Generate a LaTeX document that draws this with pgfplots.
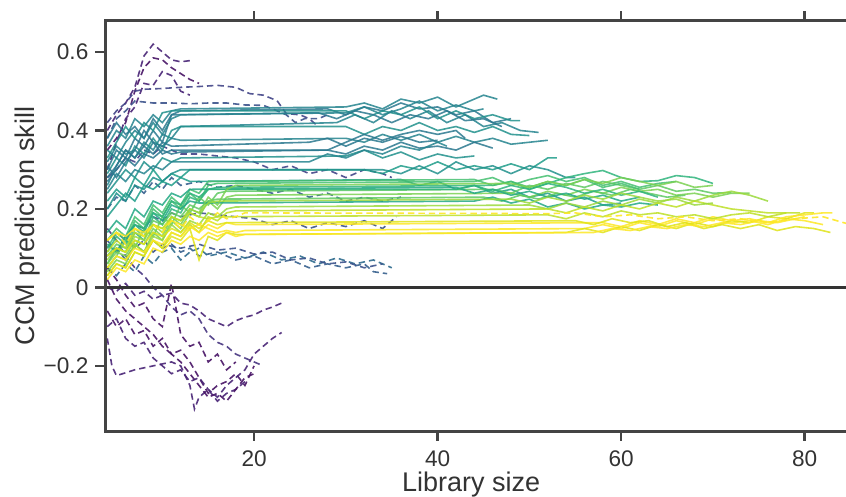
\documentclass[border=0pt]{standalone}
\usepackage{pgfplots}
\pgfplotsset{compat=1.18}
\usepackage{fontspec}
\setmainfont{Liberation Sans}
\definecolor{v05}{HTML}{471365}
\definecolor{v10}{HTML}{482475}
\definecolor{v15}{HTML}{463480}
\definecolor{v20}{HTML}{414487}
\definecolor{v25}{HTML}{3B528B}
\definecolor{v30}{HTML}{355F8D}
\definecolor{v35}{HTML}{2F6C8E}
\definecolor{v40}{HTML}{2A788E}
\definecolor{v45}{HTML}{25848E}
\definecolor{v50}{HTML}{21918C}
\definecolor{v55}{HTML}{1E9C89}
\definecolor{v60}{HTML}{22A884}
\definecolor{v65}{HTML}{2FB47C}
\definecolor{v70}{HTML}{44BF70}
\definecolor{v75}{HTML}{5EC962}
\definecolor{v80}{HTML}{7AD151}
\definecolor{v85}{HTML}{9BD93C}
\definecolor{v90}{HTML}{BDDF26}
\definecolor{v95}{HTML}{DFE318}
\definecolor{v100}{HTML}{FDE725}
\definecolor{spinec}{HTML}{444444}
\definecolor{txtc}{HTML}{333333}
\begin{document}
\begin{tikzpicture}
\begin{axis}[
  name=ax,
  scale only axis, width=370.5pt, height=205pt,
  xmin=3.75, xmax=84.5, ymin=-0.366, ymax=0.679,
  axis line style={draw=none},
  xtick={20,40,60,80}, xticklabels={20,40,60,80},
  ytick={-0.2,0,0.2,0.4,0.6}, yticklabels={−0.2,0,0.2,0.4,0.6},
  xtick pos=both, xticklabel pos=lower, ytick pos=left,
  tick align=outside, major tick length=4.8pt,
  tick style={color=spinec, line width=1.3pt},
  /pgf/number format/assume math mode=true,
  ticklabel style={font=\fontsize{11.3}{13}\selectfont, color=txtc},
  xticklabel style={yshift=-1.5pt},
  xlabel={Library size}, ylabel={CCM prediction skill},
  label style={font=\fontsize{13.5}{16}\selectfont, color=txtc},
  xlabel style={at={(axis description cs:0.494,-0.148)}, anchor=base},
  ylabel style={at={(axis description cs:-0.0945,0.5)}, anchor=base, rotate=0},
  sol/.style={solid, line width=0.8pt, opacity=0.85},
  dsh/.style={dash pattern=on 3.2pt off 2pt, line width=0.8pt, opacity=0.9},
]
% ---- dashed (dark) series ----
\addplot[dsh, v10] coordinates {(4,0.40)(5,0.44)(6,0.47)(7,0.51)(8,0.59)(9,0.62)(10,0.60)(11,0.58)(12,0.575)(13,0.578)};
\addplot[dsh, v05] coordinates {(4,0.35)(5,0.38)(6,0.42)(7,0.50)(8,0.56)(9,0.585)(10,0.58)(11,0.56)(12,0.545)(13,0.53)(14,0.52)};
\addplot[dsh, v10] coordinates {(4,0.30)(5,0.37)(6,0.43)(7,0.46)(8,0.52)(9,0.515)(10,0.55)(11,0.54)(12,0.50)(13,0.49)};
\addplot[dsh, v20] coordinates {(4,0.42)(5,0.45)(6,0.47)(7,0.50)(8,0.505)(10,0.507)(12,0.51)(14,0.512)(16,0.515)(18,0.51)(19.5,0.494)(21,0.49)(22.5,0.476)(23.5,0.443)(25,0.44)(26,0.43)(27,0.41)};
\addplot[dsh, v25] coordinates {(4,0.38)(5,0.43)(6,0.45)(7,0.475)(9,0.47)(11,0.47)(13,0.468)(15,0.47)(17,0.47)(19,0.465)(21,0.464)(22,0.455)(23.5,0.44)(24.5,0.42)(25.5,0.43)(27,0.43)(28,0.44)};
\addplot[dsh, v20] coordinates {(4,0.28)(5,0.30)(6,0.33)(7,0.32)(8,0.35)(9,0.34)(10,0.36)(11,0.35)(12,0.34)(14,0.34)(16,0.335)(18,0.33)(20,0.32)(22,0.30)(24,0.31)(26,0.29)(28,0.30)(30,0.28)(32,0.30)(34,0.29)(35,0.28)};
\addplot[dsh, v30] coordinates {(4,0.20)(5,0.23)(6,0.22)(7,0.26)(8,0.24)(9,0.27)(10,0.25)(11,0.28)(12,0.26)(14,0.27)(16,0.255)(18,0.26)(20,0.25)(22,0.24)(24,0.25)(26,0.23)(28,0.24)(30,0.22)(32,0.23)(34,0.22)(36,0.23)};
\addplot[dsh, v25] coordinates {(4,0.10)(5,0.14)(6,0.12)(7,0.16)(8,0.15)(9,0.18)(10,0.17)(11,0.19)(12,0.18)(14,0.19)(16,0.185)(18,0.18)(20,0.175)(22,0.16)(24,0.17)(26,0.15)(28,0.165)(30,0.155)(32,0.17)(34,0.15)(35.5,0.18)};
\addplot[dsh, v30] coordinates {(4,0.08)(5,0.10)(6,0.07)(7,0.11)(8,0.09)(9,0.12)(10,0.10)(11,0.11)(12,0.09)(13,0.10)(14,0.08)(16,0.09)(18,0.07)(20,0.08)(22,0.06)(24,0.07)(26,0.05)(28,0.06)(30,0.05)(32,0.06)(33,0.04)(34.5,0.035)};
\addplot[dsh, v35] coordinates {(4,0.05)(5,0.03)(6,0.06)(7,0.04)(8,0.08)(9,0.06)(10,0.09)(11,0.10)(12,0.07)(13,0.09)(14,0.10)(15,0.08)(17,0.09)(19,0.075)(21,0.09)(23,0.07)(25,0.08)(27,0.06)(29,0.075)(31,0.06)(33,0.07)(35,0.05)};
\addplot[dsh, v25] coordinates {(4,0.12)(5,0.09)(6,0.13)(7,0.10)(8,0.12)(9,0.09)(10,0.11)(12,0.10)(14,0.11)(16,0.095)(18,0.10)(20,0.085)(22,0.09)(24,0.07)(26,0.075)(28,0.06)(30,0.065)(32,0.05)(34,0.06)};
\addplot[dsh, v05] coordinates {(4,0.02)(5,-0.03)(6,-0.06)(7,-0.08)(8,-0.10)(9,-0.12)(10,-0.15)(11,-0.17)(12,-0.16)(13,-0.19)(14,-0.23)(15,-0.27)(16,-0.25)(17,-0.24)(18,-0.22)(19,-0.25)(20,-0.20)};
\addplot[dsh, v10] coordinates {(4,-0.13)(4.5,-0.20)(5,-0.225)(7,-0.21)(9,-0.20)(11,-0.19)(12,-0.20)(13,-0.25)(13.5,-0.31)(14,-0.28)(15,-0.26)(16,-0.29)(17,-0.27)(18,-0.26)(19,-0.24)};
\addplot[dsh, v05] coordinates {(4,-0.06)(5,-0.10)(6,-0.08)(7,-0.12)(8,-0.11)(9,-0.15)(10,-0.13)(11,-0.17)(12,-0.19)(13,-0.22)(14,-0.25)(15,-0.28)(16,-0.27)(17,-0.29)(18,-0.26)(19,-0.23)(20,-0.22)};
\addplot[dsh, v10] coordinates {(4,0.0)(5,-0.01)(6,0.01)(7,-0.02)(8,-0.01)(9,-0.03)(10,-0.02)(11,-0.015)(12,-0.04)(13,-0.045)(14,-0.06)(15,-0.08)(16,-0.09)(17,-0.10)(18,-0.085)(19,-0.076)(20,-0.07)(21,-0.058)(22,-0.05)(23,-0.04)};
\addplot[dsh, v15] coordinates {(4,0.15)(5,0.12)(6,0.08)(7,0.05)(8,0.03)(9,0.0)(10,-0.02)(11,-0.05)(12,-0.07)(13,-0.06)(14,-0.08)(15,-0.12)(16,-0.14)(17,-0.15)(18,-0.17)(19,-0.18)(20,-0.19)(21,-0.20)};
\addplot[dsh, v10] coordinates {(4,-0.10)(5,-0.08)(6,-0.13)(7,-0.15)(8,-0.14)(9,-0.18)(10,-0.20)(11,-0.22)(12,-0.21)(13,-0.24)(14,-0.23)(15,-0.26)(16,-0.28)(17,-0.25)(18,-0.23)(19,-0.21)(20,-0.17)(21,-0.15)(22,-0.13)(23,-0.115)};
\addplot[dsh, v05] coordinates {(4,0.05)(5,0.02)(6,-0.02)(7,-0.05)(8,-0.04)(9,-0.08)(10,-0.10)(11,0.01)(12,-0.12)(13,-0.15)(14,-0.14)(15,-0.19)(16,-0.17)(17,-0.21)(18,-0.19)};
% ---- solid teal ----
\addplot[sol, v45] coordinates {(4,0.36)(5,0.40)(6,0.38)(7,0.43)(8,0.41)(9,0.44)(10,0.42)(11,0.45)(12,0.455)(30,0.46)(32,0.47)(34,0.455)(36,0.48)(38,0.47)(40,0.485)(42,0.46)(43,0.47)(45,0.49)(46.5,0.48)};
\addplot[sol, v40] coordinates {(4,0.30)(5,0.35)(6,0.33)(7,0.38)(8,0.36)(9,0.40)(10,0.37)(11,0.44)(12,0.45)(28,0.455)(30,0.44)(32,0.46)(34,0.45)(36,0.47)(38,0.455)(40,0.46)(42,0.44)(44,0.45)(46,0.42)(48,0.43)};
\addplot[sol, v50] coordinates {(4,0.33)(5,0.37)(6,0.41)(7,0.38)(8,0.42)(9,0.40)(10,0.445)(11,0.45)(30,0.45)(32,0.43)(34,0.45)(36,0.44)(38,0.46)(40,0.43)(42,0.45)(44,0.43)(46,0.44)(48,0.425)(49,0.425)};
\addplot[sol, v45] coordinates {(4,0.26)(5,0.31)(6,0.35)(7,0.33)(8,0.37)(9,0.35)(10,0.39)(11,0.38)(12,0.41)(29,0.42)(31,0.44)(33,0.42)(35,0.45)(37,0.43)(39,0.45)(41,0.42)(43,0.44)(45,0.41)(47,0.42)(49,0.40)(51,0.395)};
\addplot[sol, v40] coordinates {(4,0.38)(5,0.42)(6,0.39)(7,0.41)(8,0.38)(9,0.43)(10,0.40)(11,0.44)(27,0.445)(29,0.43)(31,0.45)(33,0.44)(35,0.42)(37,0.44)(39,0.43)(41,0.45)(43,0.425)(45,0.43)(47,0.41)};
\addplot[sol, v50] coordinates {(4,0.29)(5,0.33)(6,0.31)(7,0.36)(8,0.34)(9,0.38)(10,0.35)(11,0.40)(12,0.41)(30,0.41)(32,0.39)(34,0.41)(36,0.40)(38,0.42)(40,0.40)(42,0.41)(44,0.395)(46,0.41)(48,0.39)(50,0.387)};
\addplot[sol, v45] coordinates {(4,0.32)(5,0.36)(6,0.34)(7,0.35)(8,0.33)(9,0.37)(10,0.36)(11,0.38)(12,0.375)(30,0.38)(32,0.37)(34,0.39)(36,0.375)(38,0.39)(40,0.37)(42,0.385)(44,0.37)(46,0.38)(48,0.365)(50,0.37)(52,0.375)};
\addplot[sol, v40] coordinates {(4,0.28)(5,0.31)(6,0.35)(7,0.33)(8,0.36)(9,0.34)(10,0.37)(11,0.36)(26,0.37)(28,0.38)(30,0.36)(32,0.38)(34,0.37)(36,0.385)(38,0.37)(40,0.375)};
\addplot[sol, v40] coordinates {(4,0.27)(5,0.30)(6,0.33)(7,0.31)(8,0.34)(9,0.33)(10,0.35)(11,0.34)(12,0.345)(28,0.35)(30,0.34)(32,0.36)(34,0.35)(36,0.37)(38,0.355)(40,0.36)(42,0.35)(44,0.37)(46,0.355)};
\addplot[sol, v50] coordinates {(4,0.24)(5,0.27)(6,0.30)(7,0.28)(8,0.32)(9,0.30)(10,0.33)(11,0.32)(12,0.33)(30,0.335)(32,0.35)(34,0.33)(36,0.345)(38,0.325)(40,0.34)(42,0.33)(44,0.335)};
\addplot[sol, v55] coordinates {(4,0.22)(5,0.25)(6,0.23)(7,0.28)(8,0.26)(9,0.30)(10,0.27)(11,0.29)(12,0.28)(13,0.30)(32,0.30)(34,0.29)(36,0.31)(38,0.30)(40,0.32)(42,0.30)(44,0.31)(46,0.30)(48,0.315)(50,0.30)(52,0.33)(53,0.33)};
\addplot[sol, v50] coordinates {(4,0.20)(5,0.24)(6,0.22)(7,0.26)(8,0.25)(9,0.28)(10,0.27)(11,0.29)(12,0.30)(34,0.30)(36,0.29)(38,0.31)(40,0.29)(42,0.32)(44,0.30)(46,0.31)(48,0.29)(50,0.31)(52,0.30)(54,0.28)(55,0.28)};
\addplot[sol, v55] coordinates {(4,0.18)(5,0.21)(6,0.24)(7,0.22)(8,0.26)(9,0.25)(10,0.27)(11,0.26)(12,0.28)(13,0.27)(36,0.275)(38,0.26)(40,0.27)(42,0.25)(44,0.26)(46,0.24)(48,0.25)(50,0.23)(52,0.24)(54,0.22)(56,0.23)(58,0.21)(60,0.215)};
\addplot[sol, v45] coordinates {(4,0.35)(5,0.33)(6,0.37)(7,0.40)(8,0.38)(9,0.42)(10,0.39)(11,0.43)(12,0.44)(30,0.445)(32,0.46)(34,0.44)(36,0.455)(38,0.475)(40,0.45)(42,0.465)(44,0.45)(45,0.455)};
\addplot[sol, v40] coordinates {(4,0.31)(5,0.28)(6,0.32)(7,0.35)(8,0.40)(9,0.37)(10,0.34)(11,0.35)(28,0.35)(30,0.37)(32,0.39)(34,0.375)(36,0.39)(38,0.40)(40,0.39)(42,0.40)(43,0.38)};
\addplot[sol, v45] coordinates {(4,0.25)(5,0.29)(6,0.27)(7,0.30)(8,0.29)(9,0.31)(10,0.30)(11,0.32)(26,0.32)(28,0.34)(30,0.33)(32,0.35)(34,0.34)(36,0.36)(38,0.35)(40,0.37)(41,0.36)};
% ---- solid green ----
\addplot[sol, v70] coordinates {(4,0.10)(5,0.14)(6,0.12)(7,0.17)(8,0.15)(9,0.20)(10,0.18)(11,0.22)(12,0.20)(13,0.24)(14,0.22)(15,0.26)(16,0.265)(44,0.27)(46,0.28)(48,0.26)(50,0.275)(52,0.285)(54,0.27)(56,0.28)(58,0.26)(60,0.27)(62,0.255)(64,0.265)(66,0.27)};
\addplot[sol, v65] coordinates {(4,0.06)(5,0.10)(6,0.09)(7,0.14)(8,0.12)(9,0.18)(10,0.16)(11,0.20)(12,0.19)(13,0.23)(14,0.22)(15,0.25)(16,0.255)(46,0.26)(48,0.27)(50,0.25)(52,0.265)(54,0.28)(56,0.29)(58,0.298)(60,0.28)(62,0.27)(64,0.272)(66,0.285)(68,0.28)(70,0.265)};
\addplot[sol, v75] coordinates {(4,0.05)(5,0.08)(6,0.12)(7,0.10)(8,0.15)(9,0.13)(10,0.18)(11,0.16)(12,0.21)(13,0.19)(14,0.23)(15,0.21)(16,0.24)(17,0.245)(46,0.25)(48,0.24)(50,0.26)(52,0.25)(54,0.265)(56,0.255)(58,0.27)(60,0.26)(62,0.25)(64,0.26)(66,0.245)(68,0.25)(70,0.24)(72,0.242)};
\addplot[sol, v70] coordinates {(4,0.12)(5,0.15)(6,0.13)(7,0.18)(8,0.16)(9,0.21)(10,0.19)(11,0.23)(12,0.21)(13,0.25)(14,0.24)(15,0.27)(44,0.275)(46,0.26)(48,0.27)(50,0.255)(52,0.27)(54,0.26)(56,0.275)(58,0.255)(60,0.265)(62,0.25)};
\addplot[sol, v80] coordinates {(4,0.04)(5,0.07)(6,0.06)(7,0.11)(8,0.09)(9,0.14)(10,0.12)(11,0.17)(12,0.15)(13,0.19)(14,0.18)(15,0.22)(16,0.20)(17,0.23)(18,0.235)(48,0.24)(50,0.23)(52,0.245)(54,0.235)(56,0.25)(58,0.24)(60,0.255)(62,0.245)(64,0.25)(66,0.235)(68,0.24)(70,0.23)(72,0.24)(74,0.24)};
\addplot[sol, v75] coordinates {(4,0.08)(5,0.11)(6,0.10)(7,0.15)(8,0.13)(9,0.17)(10,0.16)(11,0.19)(12,0.18)(13,0.21)(14,0.20)(15,0.22)(16,0.225)(45,0.23)(47,0.22)(49,0.235)(51,0.225)(53,0.24)(55,0.23)(57,0.245)(59,0.235)(61,0.25)(63,0.24)(65,0.23)(67,0.235)};
\addplot[sol, v60] coordinates {(4,0.14)(5,0.17)(6,0.15)(7,0.20)(8,0.18)(9,0.22)(10,0.21)(11,0.24)(12,0.23)(13,0.25)(42,0.255)(44,0.24)(46,0.25)(48,0.235)(50,0.245)(52,0.23)(54,0.24)(56,0.225)(58,0.235)(60,0.22)(62,0.23)};
\addplot[sol, v60] coordinates {(4,0.11)(5,0.09)(6,0.13)(7,0.16)(8,0.14)(9,0.19)(10,0.17)(11,0.21)(12,0.20)(13,0.22)(14,0.215)(44,0.22)(46,0.23)(48,0.215)(50,0.225)(52,0.205)(54,0.215)(56,0.20)(58,0.21)(60,0.205)(62,0.215)(64,0.21)};
\addplot[sol, v65] coordinates {(4,0.09)(5,0.13)(6,0.11)(7,0.16)(8,0.15)(9,0.19)(10,0.18)(11,0.22)(12,0.21)(13,0.24)(14,0.23)(15,0.25)(42,0.25)(44,0.26)(46,0.245)(48,0.26)(50,0.25)(52,0.265)(54,0.255)(56,0.24)(58,0.25)(60,0.235)(62,0.245)(64,0.23)};
\addplot[sol, v80] coordinates {(4,0.06)(5,0.09)(6,0.08)(7,0.12)(8,0.11)(9,0.15)(10,0.13)(11,0.18)(12,0.16)(13,0.20)(14,0.19)(15,0.23)(16,0.21)(17,0.25)(18,0.26)(48,0.265)(50,0.255)(52,0.27)(54,0.26)(56,0.275)(58,0.265)(60,0.28)(62,0.27)(64,0.26)(66,0.27)(68,0.255)(70,0.26)};
% ---- solid yellow-green / yellow ----
\addplot[sol, v85] coordinates {(4,0.05)(5,0.08)(6,0.07)(7,0.11)(8,0.09)(9,0.13)(10,0.12)(11,0.16)(12,0.14)(13,0.17)(14,0.16)(15,0.19)(16,0.18)(17,0.20)(18,0.205)(50,0.21)(52,0.20)(54,0.215)(56,0.205)(58,0.22)(60,0.21)(62,0.225)(64,0.215)(66,0.23)(68,0.22)(70,0.235)(72,0.245)(74,0.235)(76,0.22)};
\addplot[sol, v90] coordinates {(4,0.03)(5,0.06)(6,0.05)(7,0.09)(8,0.08)(9,0.12)(10,0.10)(11,0.14)(12,0.13)(13,0.16)(14,0.14)(15,0.18)(16,0.17)(17,0.19)(18,0.195)(52,0.20)(54,0.19)(56,0.205)(58,0.195)(60,0.21)(62,0.20)(64,0.215)(66,0.205)(68,0.22)(70,0.21)(72,0.20)(74,0.195)(76,0.19)(78,0.19)};
\addplot[sol, v85] coordinates {(4,0.07)(5,0.10)(6,0.09)(7,0.13)(8,0.12)(9,0.16)(10,0.14)(11,0.18)(12,0.17)(13,0.20)(14,0.19)(15,0.215)(16,0.22)(48,0.225)(50,0.215)(52,0.23)(54,0.22)(56,0.235)(58,0.225)(60,0.24)(62,0.23)(64,0.22)(66,0.225)(68,0.21)(70,0.215)};
\addplot[sol, v100] coordinates {(4,0.12)(5,0.14)(6,0.13)(7,0.15)(8,0.14)(9,0.16)(10,0.15)(11,0.17)(12,0.16)(13,0.15)(14,0.16)(15,0.15)(16,0.14)(17,0.145)(18,0.14)(19,0.145)(56,0.15)(58,0.16)(60,0.15)(62,0.165)(64,0.155)(66,0.17)(68,0.16)(70,0.175)(72,0.165)(74,0.17)(76,0.16)(78,0.175)(80,0.17)(82,0.16)};
\addplot[sol, v95] coordinates {(4,0.03)(5,0.06)(6,0.05)(7,0.09)(8,0.08)(9,0.12)(10,0.10)(11,0.13)(12,0.12)(13,0.15)(14,0.07)(15,0.13)(16,0.12)(17,0.14)(18,0.135)(54,0.14)(56,0.15)(58,0.14)(60,0.155)(62,0.145)(64,0.16)(66,0.15)(68,0.165)(70,0.155)(72,0.17)(74,0.165)(76,0.18)(78,0.175)(80,0.19)(81,0.19)};
\addplot[sol, v100] coordinates {(4,0.05)(5,0.08)(6,0.07)(7,0.10)(8,0.09)(9,0.12)(10,0.11)(11,0.14)(12,0.13)(13,0.155)(14,0.14)(15,0.16)(16,0.15)(17,0.165)(18,0.16)(58,0.165)(60,0.155)(62,0.17)(64,0.16)(66,0.175)(68,0.165)(70,0.18)(72,0.17)(74,0.175)(76,0.165)(78,0.18)(80,0.185)(82,0.19)(83,0.19)};
\addplot[sol, v95] coordinates {(4,0.08)(5,0.10)(6,0.09)(7,0.12)(8,0.11)(9,0.14)(10,0.13)(11,0.15)(12,0.14)(13,0.165)(14,0.15)(15,0.17)(16,0.16)(17,0.165)(55,0.17)(57,0.16)(59,0.175)(61,0.165)(63,0.17)(65,0.155)(67,0.165)(69,0.15)(71,0.16)(73,0.15)(75,0.16)(77,0.145)(79,0.155)(81,0.15)(82.8,0.14)};
\addplot[sol, v100] coordinates {(4,0.02)(5,0.05)(6,0.04)(7,0.07)(8,0.06)(9,0.10)(10,0.09)(11,0.12)(12,0.11)(13,0.13)(14,0.12)(15,0.14)(16,0.13)(17,0.14)(18,0.13)(19,0.135)(57,0.14)(59,0.15)(61,0.145)(63,0.155)(65,0.15)(67,0.16)(69,0.155)(71,0.165)(73,0.16)(75,0.17)(77,0.165)(79,0.175)(80,0.18)};
\addplot[sol, v90] coordinates {(4,0.09)(5,0.12)(6,0.10)(7,0.14)(8,0.13)(9,0.16)(10,0.15)(11,0.18)(12,0.17)(13,0.19)(14,0.18)(15,0.175)(16,0.18)(52,0.185)(54,0.175)(56,0.19)(58,0.18)(60,0.195)(62,0.185)(64,0.19)(66,0.18)(68,0.185)(70,0.175)(72,0.185)(74,0.19)(76,0.18)(78,0.19)(79.5,0.19)};
% ---- yellow dashed ----
\addplot[dsh, v100] coordinates {(4,0.12)(5,0.14)(6,0.11)(7,0.15)(8,0.13)(9,0.16)(10,0.14)(11,0.17)(12,0.15)(13,0.18)(14,0.16)(15,0.17)(16,0.19)(17,0.175)(18,0.18)(19,0.19)(52,0.188)(55,0.19)(58,0.18)(61,0.185)(64,0.175)(67,0.18)(70,0.17)(73,0.175)(76,0.165)(79,0.175)(82,0.18)(85,0.16)};
% ---- zero line ----
\addplot[txtc, line width=1.1pt] coordinates {(3.75,0)(84.5,0)};
\end{axis}
\draw[spinec, line width=1.5pt] (ax.south west) -- (ax.south east);
\draw[spinec, line width=1.5pt] (ax.north west) -- (ax.north east);
\draw[spinec, line width=1.5pt] ([yshift=-0.75pt]ax.south west) -- ([yshift=0.75pt]ax.north west);
\pgfresetboundingbox
\path[use as bounding box] ([xshift=-52.5pt,yshift=-32.5pt]ax.south west) rectangle ([yshift=10.5pt]ax.north east);
\end{tikzpicture}
\end{document}
